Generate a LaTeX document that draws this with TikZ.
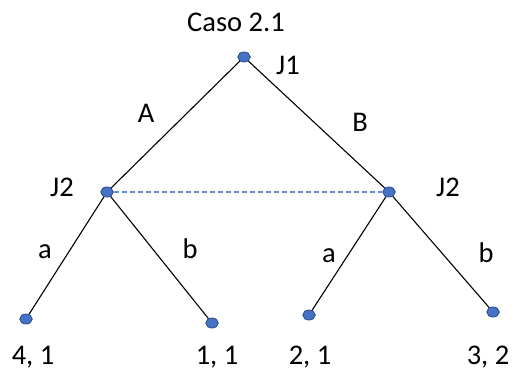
\documentclass[tikz,border=0pt]{standalone}
\usepackage{fontspec}
\setmainfont{Carlito}
\usetikzlibrary{shapes.geometric}

\definecolor{dotblue}{RGB}{68,114,196}
\definecolor{dotedge}{RGB}{47,82,143}
\definecolor{infoset}{RGB}{100,140,210}

\tikzset{
  dec/.style={ellipse, fill=dotblue, draw=dotedge, line width=0.9pt, inner sep=0pt, minimum width=12.5pt, minimum height=10pt},
  lbl/.style={font=\fontsize{28.5}{33}\selectfont, inner sep=0pt},
  branch/.style={line width=1.1pt, black}
}

\begin{document}
\begin{tikzpicture}[x=1pt, y=-1pt]
\useasboundingbox (0,0) rectangle (532,372);
% decision nodes
\node[dec] (r) at (244,57) {};
\node[dec] (l) at (107,192) {};
\node[dec] (m) at (389,192) {};
% terminal nodes
\node[dec] (t1) at (26,319) {};
\node[dec] (t2) at (212,323) {};
\node[dec] (t3) at (309,315) {};
\node[dec] (t4) at (493,312) {};

% branches
\draw[branch] (r) -- (l);
\draw[branch] (r) -- (m);
\draw[branch] (l) -- (t1);
\draw[branch] (l) -- (t2);
\draw[branch] (m) -- (t3);
\draw[branch] (m) -- (t4);
% information set
\draw[infoset, line width=1.1pt, dash pattern=on 5pt off 3pt] (l) -- (m);

% labels
\node[lbl] (caso) at (236,22) {Caso 2.1};
\node[lbl] (j1) at (288,65) {J1};
\node[lbl] (bA) at (146,113) {A};
\node[lbl] (bB) at (360,122) {B};
\node[lbl] (j2l) at (62,187) {J2};
\node[lbl] (j2r) at (448,187) {J2};
\node[lbl] (la) at (45,252) {a};
\node[lbl] (lb) at (190,249) {b};
\node[lbl] (ra) at (329,256) {a};
\node[lbl] (rb) at (486,253) {b};
% payoffs
\node[lbl] (p1) at (33,357) {4, 1};
\node[lbl] (p2) at (217,357) {1, 1};
\node[lbl] (p3) at (310,357) {2, 1};
\node[lbl] (p4) at (488,357) {3, 2};
\end{tikzpicture}
\end{document}
